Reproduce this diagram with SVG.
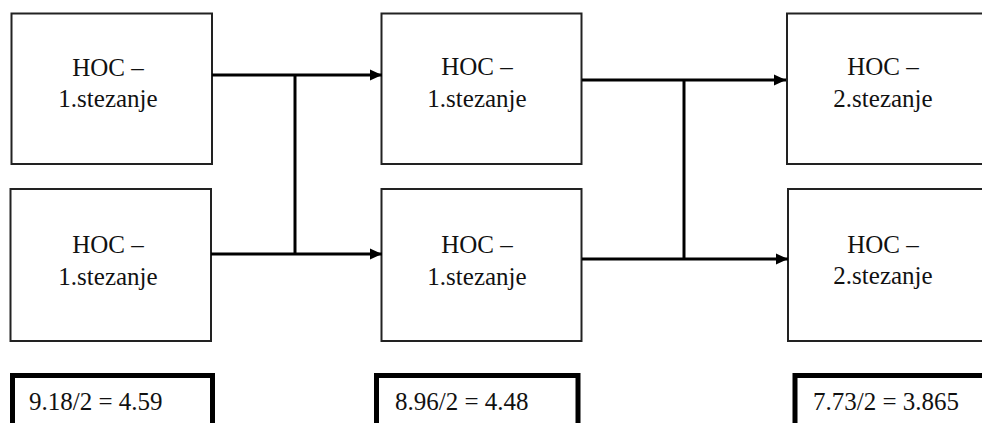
<svg xmlns="http://www.w3.org/2000/svg" width="982" height="423" viewBox="0 0 982 423">
<style>
.box{fill:#fff;stroke:#222;stroke-width:2}
.res{fill:#fff;stroke:#000;stroke-width:5}
.c{fill:none;stroke:#000;stroke-width:3}
</style>
<defs>
<marker id="arr" markerUnits="userSpaceOnUse" markerWidth="13" markerHeight="12" refX="12" refY="6" orient="auto">
<path d="M0,0.5 L12,6 L0,11.5 z" fill="#000"/>
</marker>
</defs>
<rect width="982" height="423" fill="#fff"/>
<g font-family="Liberation Serif, DejaVu Serif, serif" font-size="25" fill="#111">
<g id="n1" text-anchor="middle"><rect class="box" x="11.5" y="13.5" width="200.5" height="150.5"/><text x="108" y="76">HOC –</text><text x="108" y="107">1.stezanje</text></g>
<g id="n2" text-anchor="middle"><rect class="box" x="10.5" y="189" width="200.5" height="152"/><text x="108" y="253">HOC –</text><text x="108" y="285">1.stezanje</text></g>
<g id="n3" text-anchor="middle"><rect class="box" x="381.5" y="13.5" width="200" height="150.5"/><text x="477" y="75">HOC –</text><text x="477" y="107">1.stezanje</text></g>
<g id="n4" text-anchor="middle"><rect class="box" x="381.5" y="189" width="200" height="152"/><text x="477" y="253">HOC –</text><text x="477" y="285">1.stezanje</text></g>
<g id="n5" text-anchor="middle"><rect class="box" x="787" y="13.5" width="250" height="150.5"/><text x="883" y="75">HOC –</text><text x="883" y="107">2.stezanje</text></g>
<g id="n6" text-anchor="middle"><rect class="box" x="788" y="189" width="250" height="152"/><text x="883" y="253">HOC –</text><text x="883" y="284">2.stezanje</text></g>
<g id="r1"><rect class="res" x="12.5" y="375.5" width="200" height="80"/><text x="29" y="410">9.18/2 = 4.59</text></g>
<g id="r2"><rect class="res" x="376.5" y="375.5" width="201.5" height="80"/><text x="395" y="410">8.96/2 = 4.48</text></g>
<g id="r3"><rect class="res" x="795" y="375.5" width="250" height="80"/><text x="813" y="410">7.73/2 = 3.865</text></g>
</g>
<g id="connectors">
<path class="c" d="M212,75 H382" marker-end="url(#arr)"/>
<path class="c" d="M295,75 V254"/>
<path class="c" d="M211,254 H382" marker-end="url(#arr)"/>
<path class="c" d="M582,80 H786" marker-end="url(#arr)"/>
<path class="c" d="M684,80 V259"/>
<path class="c" d="M582,259 H788" marker-end="url(#arr)"/>
</g>
</svg>
